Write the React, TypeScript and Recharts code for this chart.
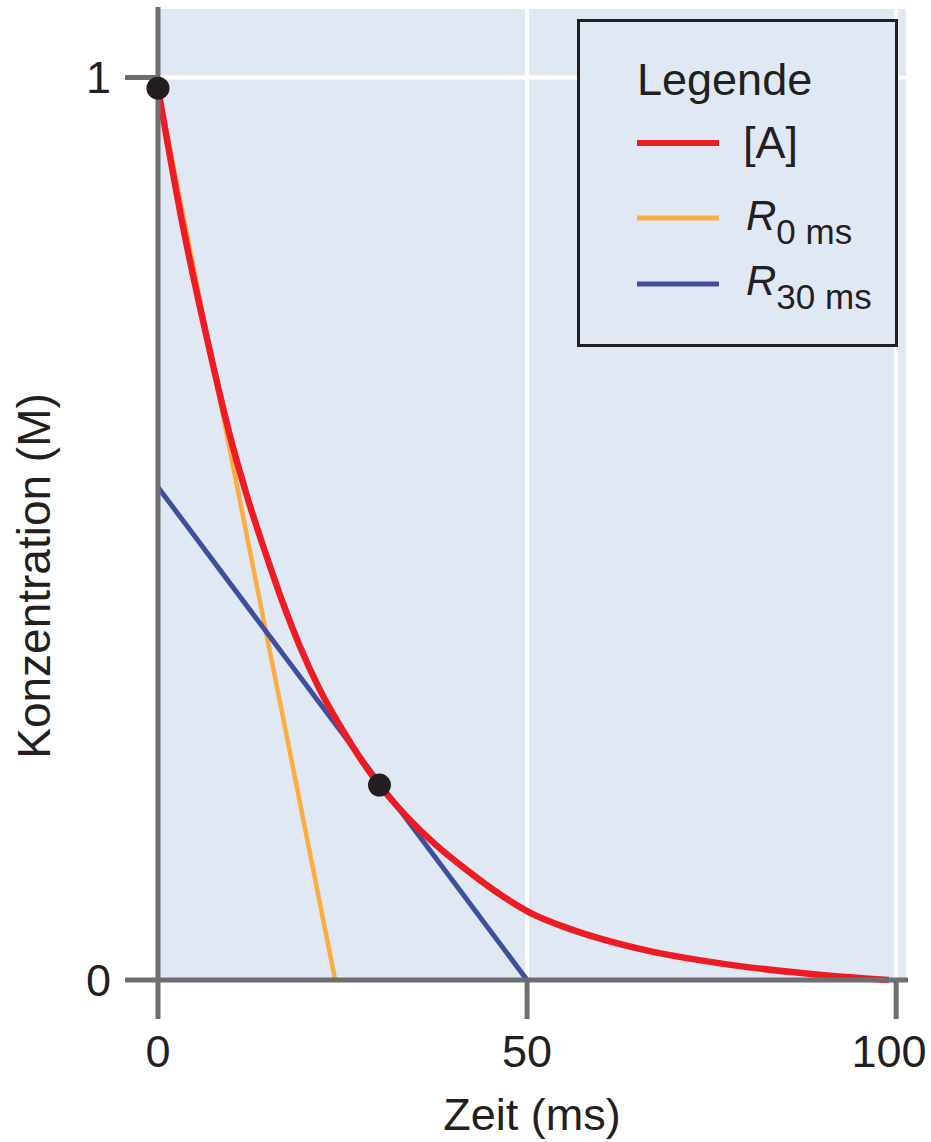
import { LineChart, Line, XAxis, YAxis, CartesianGrid, ReferenceDot, Legend } from 'recharts';

// Zeitachse (ms) und Konzentrationsachse (M)
const timeTicks = [0, 50, 100];
const concTicks = [0, 1];

const concA = [
  { t: 0, v: 0.988 },
  { t: 3.4, v: 0.834 },
  { t: 6.6, v: 0.712 },
  { t: 10.1, v: 0.592 },
  { t: 12.4, v: 0.527 },
  { t: 14.9, v: 0.465 },
  { t: 16.9, v: 0.418 },
  { t: 19.2, v: 0.37 },
  { t: 21.9, v: 0.322 },
  { t: 25.0, v: 0.277 },
  { t: 27.7, v: 0.242 },
  { t: 30.0, v: 0.216 },
  { t: 33.7, v: 0.181 },
  { t: 37.6, v: 0.15 },
  { t: 41.8, v: 0.122 },
  { t: 46.3, v: 0.095 },
  { t: 50.3, v: 0.075 },
  { t: 55.3, v: 0.058 },
  { t: 59.8, v: 0.046 },
  { t: 66.6, v: 0.032 },
  { t: 73.3, v: 0.022 },
  { t: 80.1, v: 0.014 },
  { t: 86.9, v: 0.008 },
  { t: 93.6, v: 0.003 },
  { t: 99.0, v: 0.0 },
];

// Tangenten
const rate0 = [
  { t: 0, v: 0.988 },
  { t: 24, v: 0 },
];
const rate30 = [
  { t: 0, v: 0.546 },
  { t: 50, v: 0 },
];

const markedPoints = [
  { t: 0, v: 0.988 },
  { t: 30, v: 0.216 },
];

const legendItems = [
  { label: '[A]', sub: '', color: '#ed1c24', width: 6 },
  { label: 'R', sub: '0 ms', color: '#fbad3f', width: 5 },
  { label: 'R', sub: '30 ms', color: '#3e4f9f', width: 5 },
];

const FONT = '"Liberation Sans", Arial, Helvetica, sans-serif';
const AXIS = '#6d6e71';
const INK = '#231f20';
const BG = '#e0e8f4';

const LegendBox = () => (
  <svg width={321} height={328} style={{ display: 'block' }}>
    <rect x={1.5} y={1.5} width={318} height={325} fill={BG} stroke={INK} strokeWidth={3} />
    <text x={60} y={76} fontSize={45} fontFamily={FONT} fill={INK}>
      Legende
    </text>
    {legendItems.map((item, i) => {
      const lineY = [124, 199, 265][i];
      const baseY = [139, 211, 276][i];
      return (
        <g key={i}>
          <line x1={60} x2={142} y1={lineY} y2={lineY} stroke={item.color} strokeWidth={item.width} />
          {item.sub ? (
            <text x={169} y={baseY} fontFamily={FONT} fill={INK}>
              <tspan fontSize={42} fontStyle="italic">{item.label}</tspan>
              <tspan fontSize={35} dy={14}>{item.sub}</tspan>
            </text>
          ) : (
            <text x={166} y={baseY} fontSize={45} fontFamily={FONT} fill={INK}>
              {item.label}
            </text>
          )}
        </g>
      );
    })}
  </svg>
);

// keeps the "100" label inside the page like in the original
const TimeTick = ({ x, y, payload }: any) => (
  <text x={Math.min(x, 889)} y={y} dy="0.71em" textAnchor="middle" fontSize={45} fontFamily={FONT} fill={INK}>
    {payload.value}
  </text>
);

const XTitle = () => (
  <text x={532} y={1130} textAnchor="middle" fontSize={45} fontFamily={FONT} fill={INK}>
    Zeit (ms)
  </text>
);

const YTitle = () => (
  <text x={50} y={576} transform="rotate(-90 50 576)" textAnchor="middle" fontSize={46} fontFamily={FONT} fill={INK}>
    Konzentration (M)
  </text>
);

export default function App() {
  const tickStyle = { fill: INK, fontSize: 45, fontFamily: FONT };
  return (
    <div style={{ position: 'absolute', left: 0, top: 0, background: '#fff' }}>
      <LineChart width={931} height={1142} margin={{ top: 7, right: 23, bottom: 0, left: 0 }}>
        <CartesianGrid fill={BG} fillOpacity={1} stroke="#ffffff" strokeWidth={4} />
        <XAxis
          type="number"
          dataKey="t"
          domain={[0, 101.6]}
          ticks={timeTicks}
          height={162}
          tickSize={39}
          tickMargin={16}
          tick={<TimeTick />}
          tickLine={{ stroke: AXIS, strokeWidth: 5 }}
          axisLine={{ stroke: AXIS, strokeWidth: 5 }}
          label={<XTitle />}
        />
        <YAxis
          type="number"
          dataKey="v"
          domain={[0, 1.078]}
          ticks={concTicks}
          width={158}
          tickSize={33}
          tickMargin={14}
          tick={tickStyle}
          tickLine={{ stroke: AXIS, strokeWidth: 5 }}
          axisLine={{ stroke: AXIS, strokeWidth: 5 }}
          label={<YTitle />}
        />
        <Legend
          layout="horizontal"
          verticalAlign="middle"
          align="center"
          content={() => <LegendBox />}
          wrapperStyle={{ left: 577, top: 19, width: 321, height: 328 }}
        />
        <Line data={rate0} dataKey="v" stroke="#fbad3f" strokeWidth={4.5} dot={false} isAnimationActive={false} />
        <Line data={rate30} dataKey="v" stroke="#3e4f9f" strokeWidth={5} dot={false} isAnimationActive={false} />
        <Line data={concA} dataKey="v" type="monotone" stroke="#ed1c24" strokeWidth={6.5} dot={false} isAnimationActive={false} />
        {markedPoints.map((p, i) => (
          <ReferenceDot key={i} x={p.t} y={p.v} r={11.5} fill={INK} stroke="none" />
        ))}
      </LineChart>
    </div>
  );
}
